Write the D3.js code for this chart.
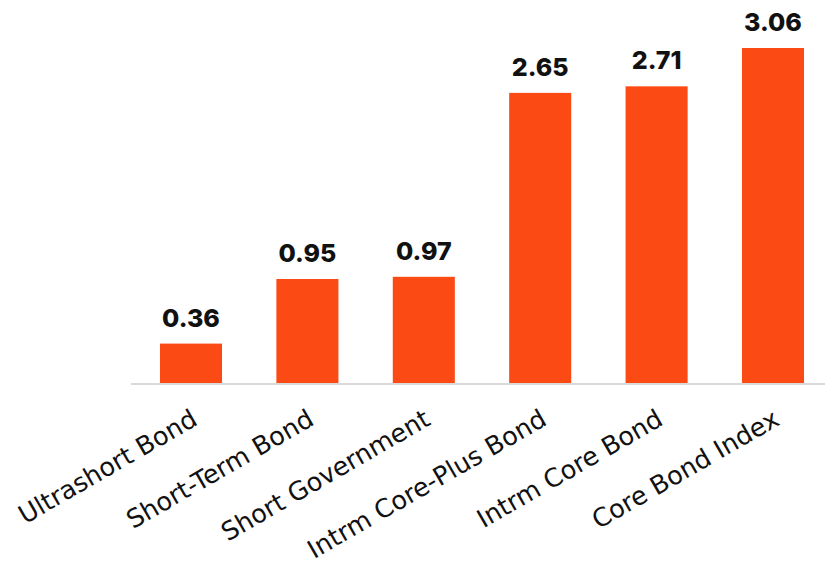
<!DOCTYPE html>
<html>
<head>
<meta charset="utf-8">
<style>
    body { margin: 0; background: #fff; }
    .bar { fill: #fc4a14; }
    .value { font-family: Inter, sans-serif; font-weight: 800; font-size: 25px; fill: #111; }
    .cat { font-family: "DejaVu Sans", sans-serif; font-size: 25.5px; fill: #111; }
</style>
<script src="https://d3js.org/d3.v7.min.js"></script>
</head>
<body>
<svg width="825" height="564"></svg>
<script>
    const categories = ['Ultrashort Bond', 'Short-Term Bond', 'Short Government',
        'Intrm Core-Plus Bond', 'Intrm Core Bond', 'Core Bond Index'];
    const values = [0.36, 0.95, 0.97, 2.65, 2.71, 3.06];
    const valueLabels = ['0.36', '0.95', '0.97', '2.65', '2.71', '3.06'];

    const data = categories.map((c, i) => ({ cat: c, value: values[i], label: valueLabels[i] }));

    const svg = d3.select('svg');

    const xScale = d3.scaleBand()
        .domain(categories)
        .range([132.8, 831.2])
        .paddingInner(0.467)
        .paddingOuter(0.2335);

    const yScale = d3.scaleLinear()
        .domain([0, 3.06])
        .range([383, 48]);

    svg.selectAll('.bar')
        .data(data)
        .enter()
        .append('rect')
        .classed('bar', true)
        .attr('x', d => xScale(d.cat))
        .attr('y', d => yScale(d.value))
        .attr('width', xScale.bandwidth())
        .attr('height', d => yScale(0) - yScale(d.value));

    // baseline
    svg.append('line')
        .attr('x1', 131).attr('x2', 825)
        .attr('y1', yScale(0) + 1).attr('y2', yScale(0) + 1)
        .attr('stroke', '#d9d9d9')
        .attr('stroke-width', 2);

    svg.selectAll('.value')
        .data(data)
        .enter()
        .append('text')
        .classed('value', true)
        .attr('x', d => xScale(d.cat) + xScale.bandwidth() / 2)
        .attr('y', d => yScale(d.value) - 17)
        .attr('text-anchor', 'middle')
        .text(d => d.label);

    svg.selectAll('.cat')
        .data(data)
        .enter()
        .append('text')
        .classed('cat', true)
        .attr('text-anchor', 'end')
        .attr('transform', d => `translate(${xScale(d.cat) + xScale.bandwidth() / 2 + 8},424) rotate(-30)`)
        .text(d => d.cat);
</script>
</body>
</html>
